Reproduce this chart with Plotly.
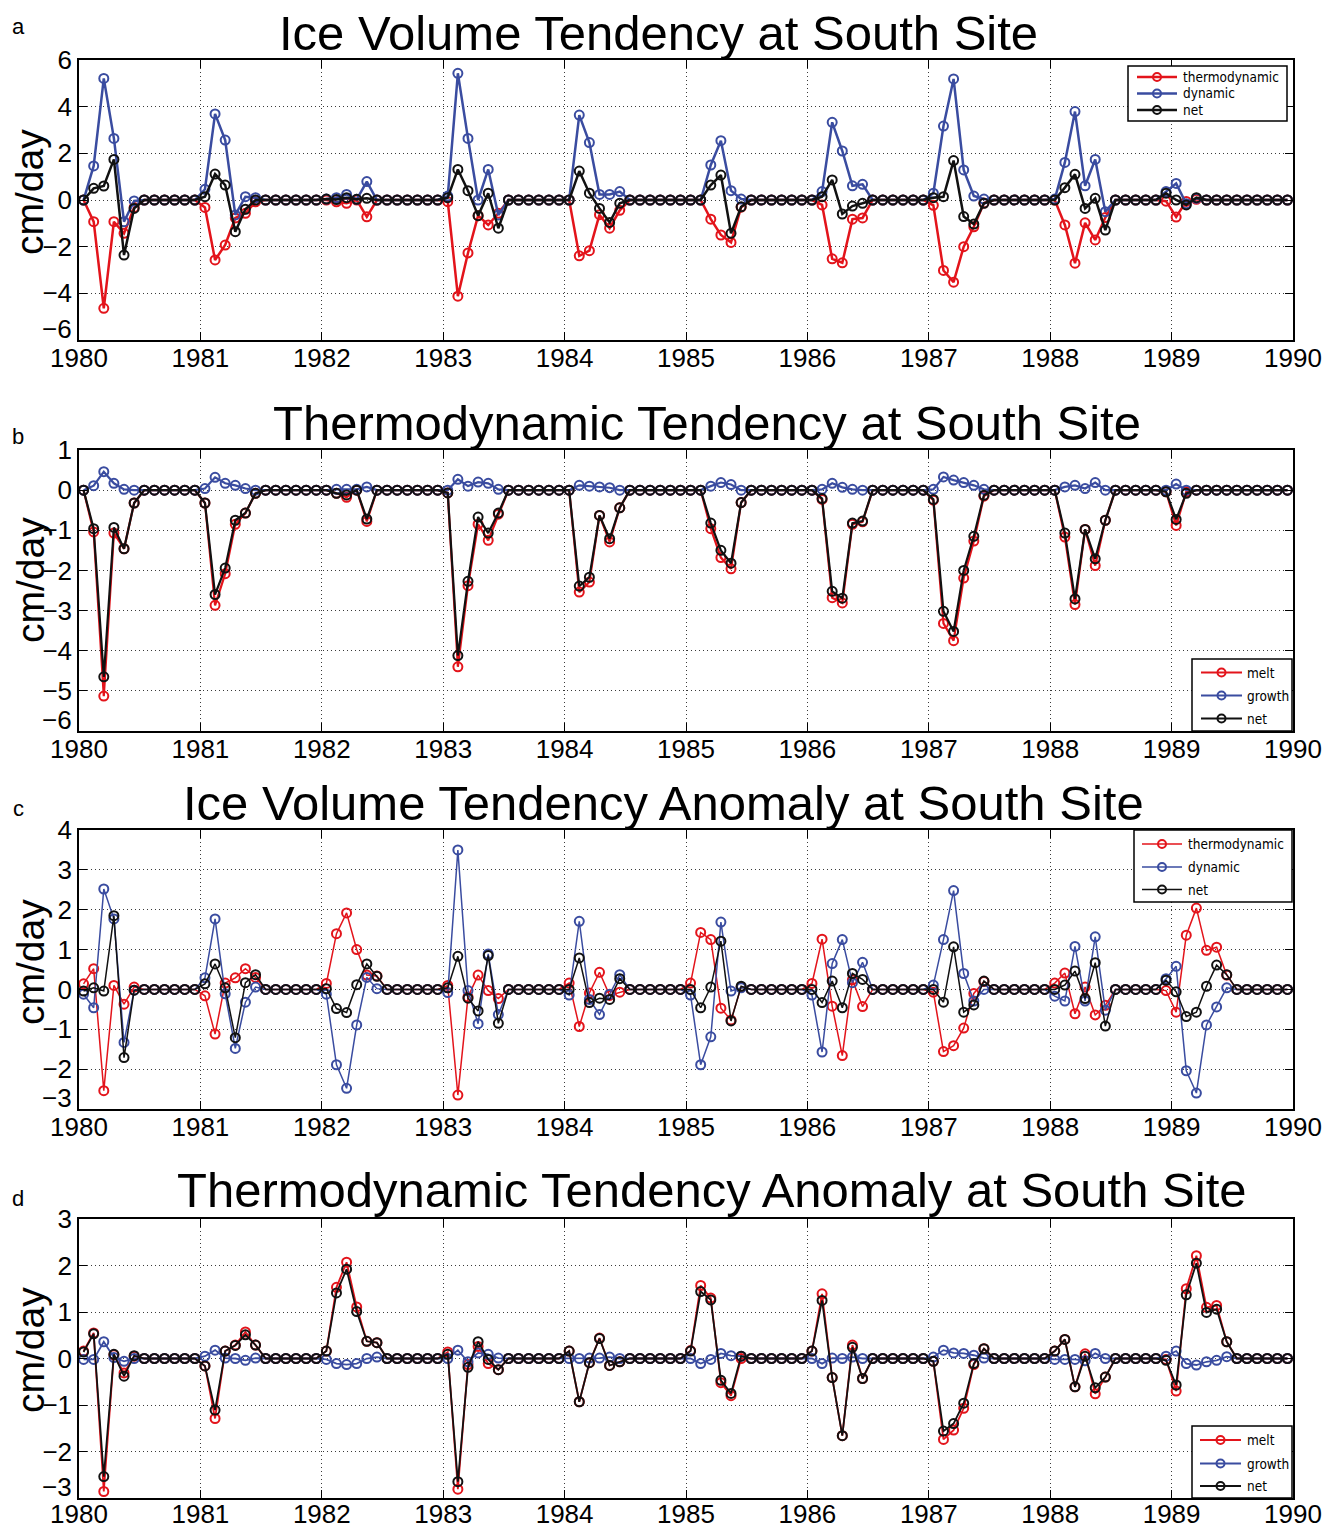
import plotly.graph_objects as go

W, H = 1337, 1529

RED = "#E3141B"
BLUE = "#3A4CA0"
BLACK = "#111111"
FONT = "Liberation Sans, Arial, Helvetica, sans-serif"
LEG_FONT = "Liberation Sans Narrow, DejaVu Sans Condensed, Liberation Sans, sans-serif"

# monthly samples, Jan 1980 .. Dec 1989 (plotted near the start of each month)
t = [1980 + (m + 0.45) / 12 for m in range(120)]
year_ticks = list(range(1980, 1991))

# ---- (a) ice volume tendency (cm/day) ----
thermo_a = [
    0, -0.93, -4.64, -0.93, -1.43, -0.32, 0, 0, 0, 0, 0, 0,
    -0.32, -2.57, -1.93, -0.77, -0.57, -0.08, 0, 0, 0, 0, 0, 0,
    0, -0.08, -0.14, 0, -0.72, 0, 0, 0, 0, 0, 0, 0,
    -0.07, -4.12, -2.27, -0.67, -1.07, -0.57, 0, 0, 0, 0, 0, 0,
    0, -2.39, -2.17, -0.63, -1.21, -0.44, 0, 0, 0, 0, 0, 0,
    0, 0, -0.82, -1.5, -1.82, -0.31, 0, 0, 0, 0, 0, 0,
    0, -0.21, -2.52, -2.69, -0.82, -0.77, 0, 0, 0, 0, 0, 0,
    -0.23, -3.02, -3.52, -2.0, -1.15, -0.13, 0, 0, 0, 0, 0, 0,
    0, -1.07, -2.71, -0.98, -1.71, -0.75, 0, 0, 0, 0, 0, -0.05,
    -0.73, -0.06, 0.03, 0, 0, 0, 0, 0, 0, 0, 0, 0,
]
dyn_a = [
    0, 1.46, 5.21, 2.64, -0.93, -0.04, 0, 0, 0, 0, 0, 0,
    0.46, 3.69, 2.57, -0.64, 0.14, 0.1, 0, 0, 0, 0, 0, 0,
    0.04, 0.1, 0.24, 0.03, 0.79, 0, 0, 0, 0, 0, 0, 0,
    0.17, 5.43, 2.64, 0, 1.31, -0.64, 0, 0, 0, 0, 0, 0,
    0, 3.64, 2.46, 0.24, 0.24, 0.36, 0, 0, 0, 0, 0, 0,
    0, 0, 1.5, 2.54, 0.4, 0.04, 0, 0, 0, 0, 0, 0,
    0, 0.36, 3.33, 2.1, 0.61, 0.67, 0, 0, 0, 0, 0, 0,
    0.29, 3.17, 5.19, 1.29, 0.17, 0.04, 0, 0, 0, 0, 0, 0,
    0.04, 1.61, 3.79, 0.61, 1.74, -0.5, 0, 0, 0, 0, 0, 0.36,
    0.71, -0.16, 0.07, 0, 0, 0, 0, 0, 0, 0, 0, 0,
]
net_a = [
    0, 0.5, 0.6, 1.74, -2.36, -0.36, 0, 0, 0, 0, 0, 0,
    0.14, 1.11, 0.64, -1.36, -0.4, 0, 0, 0, 0, 0, 0, 0,
    0.04, 0.02, 0.1, 0.03, 0.07, 0, 0, 0, 0, 0, 0, 0,
    0.1, 1.31, 0.4, -0.67, 0.29, -1.21, 0, 0, 0, 0, 0, 0,
    0, 1.24, 0.29, -0.36, -0.96, -0.14, 0, 0, 0, 0, 0, 0,
    0, 0, 0.64, 1.07, -1.43, -0.29, 0, 0, 0, 0, 0, 0,
    0, 0.14, 0.86, -0.6, -0.26, -0.14, 0, 0, 0, 0, 0, 0,
    0.1, 0.14, 1.69, -0.71, -1.03, -0.14, 0, 0, 0, 0, 0, 0,
    0, 0.53, 1.1, -0.36, 0.07, -1.29, 0, 0, 0, 0, 0, 0.29,
    0, -0.21, 0.1, 0, 0, 0, 0, 0, 0, 0, 0, 0,
]

# ---- (b) thermodynamic tendency (cm/day) ----
melt_b = [
    0, -1.04, -5.13, -1.07, -1.46, -0.32, 0, 0, 0, 0, 0, 0,
    -0.32, -2.87, -2.08, -0.85, -0.57, -0.08, 0, 0, 0, 0, 0, 0,
    0, -0.08, -0.18, 0, -0.78, 0, 0, 0, 0, 0, 0, 0,
    -0.07, -4.4, -2.38, -0.85, -1.25, -0.6, 0, 0, 0, 0, 0, 0,
    0, -2.54, -2.29, -0.63, -1.29, -0.44, 0, 0, 0, 0, 0, 0,
    0, 0, -0.96, -1.68, -1.96, -0.31, 0, 0, 0, 0, 0, 0,
    0, -0.23, -2.68, -2.81, -0.85, -0.79, 0, 0, 0, 0, 0, 0,
    -0.25, -3.32, -3.75, -2.19, -1.27, -0.15, 0, 0, 0, 0, 0, 0,
    0, -1.17, -2.85, -0.98, -1.88, -0.75, 0, 0, 0, 0, 0, -0.04,
    -0.88, -0.04, 0, 0, 0, 0, 0, 0, 0, 0, 0, 0,
]
growth_b = [
    0, 0.11, 0.46, 0.17, 0.02, 0, 0, 0, 0, 0, 0, 0,
    0.04, 0.32, 0.17, 0.12, 0.04, 0, 0, 0, 0, 0, 0, 0,
    0, 0.02, 0.02, 0.02, 0.08, 0, 0, 0, 0, 0, 0, 0,
    0, 0.27, 0.1, 0.2, 0.17, 0.02, 0, 0, 0, 0, 0, 0,
    0, 0.12, 0.1, 0.08, 0.06, 0, 0, 0, 0, 0, 0, 0,
    0, 0, 0.1, 0.19, 0.14, 0, 0, 0, 0, 0, 0, 0,
    0, 0.02, 0.17, 0.07, 0.02, 0, 0, 0, 0, 0, 0, 0,
    0.02, 0.33, 0.25, 0.19, 0.12, 0.02, 0, 0, 0, 0, 0, 0,
    0, 0.08, 0.12, 0.04, 0.19, 0, 0, 0, 0, 0, 0, 0,
    0.15, 0, 0, 0, 0, 0, 0, 0, 0, 0, 0, 0,
]
net_b = [
    0, -0.96, -4.65, -0.93, -1.46, -0.32, 0, 0, 0, 0, 0, 0,
    -0.32, -2.6, -1.94, -0.75, -0.57, -0.08, 0, 0, 0, 0, 0, 0,
    0, -0.08, -0.12, 0, -0.72, 0, 0, 0, 0, 0, 0, 0,
    -0.07, -4.12, -2.27, -0.67, -1.07, -0.57, 0, 0, 0, 0, 0, 0,
    0, -2.39, -2.17, -0.63, -1.21, -0.44, 0, 0, 0, 0, 0, 0,
    0, 0, -0.82, -1.5, -1.82, -0.31, 0, 0, 0, 0, 0, 0,
    0, -0.21, -2.52, -2.69, -0.82, -0.77, 0, 0, 0, 0, 0, 0,
    -0.23, -3.02, -3.52, -2.0, -1.15, -0.13, 0, 0, 0, 0, 0, 0,
    0, -1.07, -2.71, -0.98, -1.71, -0.75, 0, 0, 0, 0, 0, -0.04,
    -0.73, -0.08, 0, 0, 0, 0, 0, 0, 0, 0, 0, 0,
]

# ---- (c) ice volume tendency anomaly (cm/day) ----
thermo_c = [
    0.14, 0.52, -2.54, 0.1, -0.37, 0.06, 0, 0, 0, 0, 0, 0,
    -0.16, -1.12, 0.16, 0.29, 0.52, 0.3, 0, 0, 0, 0, 0, 0,
    0.15, 1.4, 1.92, 1.0, 0.36, 0.34, 0, 0, 0, 0, 0, 0,
    0.1, -2.65, -0.19, 0.36, -0.03, -0.23, 0, 0, 0, 0, 0, 0,
    0.16, -0.93, -0.09, 0.43, -0.15, -0.07, 0, 0, 0, 0, 0, 0,
    0.16, 1.43, 1.25, -0.47, -0.77, 0.06, 0, 0, 0, 0, 0, 0,
    0.15, 1.26, -0.42, -1.66, 0.24, -0.43, 0, 0, 0, 0, 0, 0,
    -0.07, -1.56, -1.41, -0.97, -0.1, 0.2, 0, 0, 0, 0, 0, 0,
    0.16, 0.41, -0.61, 0.06, -0.64, -0.4, 0, 0, 0, 0, 0, -0.03,
    -0.57, 1.36, 2.04, 0.98, 1.06, 0.36, 0, 0, 0, 0, 0, 0,
]
dyn_c = [
    -0.12, -0.46, 2.52, 1.77, -1.33, -0.02, 0, 0, 0, 0, 0, 0,
    0.29, 1.77, -0.11, -1.48, -0.32, 0.06, 0, 0, 0, 0, 0, 0,
    -0.12, -1.89, -2.48, -0.89, 0.3, 0.02, 0, 0, 0, 0, 0, 0,
    -0.08, 3.5, -0.03, -0.86, 0.89, -0.63, 0, 0, 0, 0, 0, 0,
    -0.14, 1.71, -0.25, -0.63, -0.12, 0.37, 0, 0, 0, 0, 0, 0,
    -0.14, -1.89, -1.19, 1.69, -0.04, 0.04, 0, 0, 0, 0, 0, 0,
    -0.14, -1.57, 0.65, 1.25, 0.17, 0.68, 0, 0, 0, 0, 0, 0,
    0.11, 1.25, 2.48, 0.4, -0.29, 0, 0, 0, 0, 0, 0, 0,
    -0.17, -0.29, 1.08, -0.29, 1.32, -0.52, 0, 0, 0, 0, 0, 0.27,
    0.58, -2.04, -2.6, -0.89, -0.44, 0.04, 0, 0, 0, 0, 0, 0,
]
net_c = [
    -0.04, 0.04, -0.04, 1.85, -1.71, -0.02, 0, 0, 0, 0, 0, 0,
    0.14, 0.64, 0.04, -1.21, 0.17, 0.37, 0, 0, 0, 0, 0, 0,
    0.02, -0.48, -0.58, 0.12, 0.64, 0.33, 0, 0, 0, 0, 0, 0,
    0.04, 0.83, -0.22, -0.54, 0.85, -0.85, 0, 0, 0, 0, 0, 0,
    0, 0.79, -0.33, -0.22, -0.25, 0.27, 0, 0, 0, 0, 0, 0,
    0, -0.46, 0.06, 1.21, -0.79, 0.08, 0, 0, 0, 0, 0, 0,
    0, -0.33, 0.21, -0.46, 0.4, 0.25, 0, 0, 0, 0, 0, 0,
    0, -0.32, 1.07, -0.57, -0.39, 0.21, 0, 0, 0, 0, 0, 0,
    0, 0.11, 0.46, -0.23, 0.67, -0.92, 0, 0, 0, 0, 0, 0.23,
    -0.06, -0.68, -0.57, 0.08, 0.61, 0.37, 0, 0, 0, 0, 0, 0,
]

# ---- (d) thermodynamic tendency anomaly (cm/day) ----
melt_d = [
    0.16, 0.55, -2.86, 0.08, -0.31, 0.05, 0, 0, 0, 0, 0, 0,
    -0.16, -1.29, 0.16, 0.29, 0.57, 0.29, 0, 0, 0, 0, 0, 0,
    0.16, 1.53, 2.07, 1.11, 0.37, 0.34, 0, 0, 0, 0, 0, 0,
    0.14, -2.81, -0.13, 0.26, -0.11, -0.24, 0, 0, 0, 0, 0, 0,
    0.16, -0.93, -0.09, 0.44, -0.15, -0.07, 0, 0, 0, 0, 0, 0,
    0.17, 1.57, 1.3, -0.52, -0.8, 0, 0, 0, 0, 0, 0, 0,
    0.16, 1.39, -0.41, -1.66, 0.29, -0.43, 0, 0, 0, 0, 0, 0,
    -0.06, -1.74, -1.54, -1.07, -0.13, 0.21, 0, 0, 0, 0, 0, 0,
    0.16, 0.41, -0.61, 0.1, -0.76, -0.4, 0, 0, 0, 0, 0, -0.02,
    -0.7, 1.5, 2.21, 1.1, 1.14, 0.36, 0, 0, 0, 0, 0, 0,
]
growth_d = [
    -0.02, -0.02, 0.36, 0.02, -0.06, 0, 0, 0, 0, 0, 0, 0,
    0.05, 0.18, 0.01, 0, -0.04, 0.01, 0, 0, 0, 0, 0, 0,
    -0.02, -0.11, -0.13, -0.11, 0, 0.03, 0, 0, 0, 0, 0, 0,
    0, 0.18, -0.07, 0.12, 0.09, 0.01, 0, 0, 0, 0, 0, 0,
    0, 0, 0.01, 0.01, 0.03, 0, 0, 0, 0, 0, 0, 0,
    0, -0.11, -0.02, 0.11, 0.06, 0.05, 0, 0, 0, 0, 0, 0,
    0, -0.11, 0.01, 0, 0.03, 0, 0, 0, 0, 0, 0, 0,
    0.03, 0.18, 0.12, 0.11, 0.07, 0.01, 0, 0, 0, 0, 0, 0,
    -0.02, -0.02, -0.02, -0.05, 0.11, 0, 0, 0, 0, 0, 0, 0.05,
    0.16, -0.11, -0.14, -0.07, -0.04, 0.04, 0, 0, 0, 0, 0, 0,
]
net_d = [
    0.14, 0.53, -2.54, 0.09, -0.38, 0.06, 0, 0, 0, 0, 0, 0,
    -0.16, -1.11, 0.16, 0.28, 0.51, 0.29, 0, 0, 0, 0, 0, 0,
    0.16, 1.41, 1.92, 1.01, 0.37, 0.34, 0, 0, 0, 0, 0, 0,
    0.09, -2.65, -0.19, 0.36, -0.02, -0.24, 0, 0, 0, 0, 0, 0,
    0.16, -0.93, -0.09, 0.43, -0.15, -0.07, 0, 0, 0, 0, 0, 0,
    0.16, 1.44, 1.26, -0.47, -0.75, 0.05, 0, 0, 0, 0, 0, 0,
    0.16, 1.25, -0.41, -1.66, 0.24, -0.43, 0, 0, 0, 0, 0, 0,
    -0.06, -1.56, -1.4, -0.96, -0.11, 0.21, 0, 0, 0, 0, 0, 0,
    0.16, 0.41, -0.61, 0.05, -0.63, -0.4, 0, 0, 0, 0, 0, -0.04,
    -0.57, 1.37, 2.05, 0.99, 1.06, 0.36, 0, 0, 0, 0, 0, 0,
]

panels = [
    dict(letter="a", title="Ice Volume Tendency at South Site",
         top=60, bottom=340, yrange=(-6, 6), dtick=2, lw=2.5, xstand=-6,
         series=[("thermodynamic", thermo_a, RED), ("dynamic", dyn_a, BLUE), ("net", net_a, BLACK)],
         title_xy=(658, 33), letter_y=27, ylab_y=192,
         leg=dict(box=(1128, 66, 1287, 121), line_x=(1137, 1177), text_x=1181, rows=(77, 93.5, 110))),
    dict(letter="b", title="Thermodynamic Tendency at South Site",
         top=450, bottom=731, yrange=(-6, 1), dtick=1, lw=2.2, xstand=-6,
         series=[("melt", melt_b, RED), ("growth", growth_b, BLUE), ("net", net_b, BLACK)],
         title_xy=(707, 423), letter_y=437, ylab_y=580,
         leg=dict(box=(1192, 659, 1292, 731), line_x=(1201, 1242), text_x=1245, rows=(672.5, 695.5, 718.5))),
    dict(letter="c", title="Ice Volume Tendency Anomaly at South Site",
         top=830, bottom=1109, yrange=(-3, 4), dtick=1, lw=1.5, xstand=-6,
         series=[("thermodynamic", thermo_c, RED), ("dynamic", dyn_c, BLUE), ("net", net_c, BLACK)],
         title_xy=(663, 803), letter_y=808, ylab_y=962,
         leg=dict(box=(1134, 830, 1292, 902), line_x=(1142, 1182), text_x=1186, rows=(844, 867, 889.5))),
    dict(letter="d", title="Thermodynamic Tendency Anomaly at South Site",
         top=1219, bottom=1498, yrange=(-3, 3), dtick=1, lw=1.8, xstand=-8,
         series=[("melt", melt_d, RED), ("growth", growth_d, BLUE), ("net", net_d, BLACK)],
         title_xy=(712, 1190), letter_y=1198, ylab_y=1350,
         leg=dict(box=(1192, 1426, 1292, 1498), line_x=(1200, 1241), text_x=1245, rows=(1440, 1463.5, 1486))),
]

X0, X1 = 79, 1293


def fx(p):
    return p / W


def fy(p):
    return 1 - p / H


fig = go.Figure()
layout = dict(
    width=W, height=H, margin=dict(l=0, r=0, t=0, b=0, pad=0, autoexpand=False),
    paper_bgcolor="white", plot_bgcolor="white", showlegend=False,
    font=dict(family=FONT, color="black"),
)
annotations = []
shapes = []

for i, p in enumerate(panels, start=1):
    xa = "x" if i == 1 else f"x{i}"
    ya = "y" if i == 1 else f"y{i}"
    for name, vals, col in p["series"]:
        fig.add_trace(go.Scatter(
            x=t, y=vals, name=name, mode="lines+markers",
            line=dict(color=col, width=p["lw"]),
            marker=dict(symbol="circle-open", size=9, color=col, line=dict(width=2)),
            xaxis=xa, yaxis=ya, cliponaxis=False,
        ))
    lo, hi = p["yrange"]
    yt = list(range(lo, hi + 1, p["dtick"]))
    common = dict(
        showline=True, linecolor="black", linewidth=1.5, mirror="ticks",
        ticks="inside", ticklen=8, tickwidth=1, tickcolor="black",
        showgrid=True, gridcolor="#3a3a3a", gridwidth=1, griddash="1px,3px",
        zeroline=False, automargin=False,
        tickfont=dict(family=FONT, size=26, color="black"),
    )
    layout["xaxis" if i == 1 else f"xaxis{i}"] = dict(
        common, domain=[fx(X0), fx(X1)], anchor=ya, range=[1980, 1990],
        tickvals=year_ticks, ticktext=[str(y) for y in year_ticks],
        ticklabelstandoff=p["xstand"],
    )
    layout["yaxis" if i == 1 else f"yaxis{i}"] = dict(
        common, domain=[fy(p["bottom"]), fy(p["top"])], anchor=xa, range=[lo, hi],
        tickvals=yt[1:], ticktext=[str(v).replace("-", "\u2212") for v in yt[1:]],
    )
    # lowest y tick label sits a little above its gridline
    annotations.append(dict(
        text=str(lo).replace("-", "\u2212"), xref="paper", yref=ya, x=fx(X0 - 5), y=lo,
        xanchor="right", yanchor="middle", yshift=11, showarrow=False,
        font=dict(family=FONT, size=26, color="black"),
    ))
    # title, panel letter, y-axis label
    tx, ty = p["title_xy"]
    annotations.append(dict(
        text=p["title"], xref="paper", yref="paper", x=fx(tx), y=fy(ty),
        xanchor="center", yanchor="middle", showarrow=False,
        font=dict(family=FONT, size=49, color="black"),
    ))
    annotations.append(dict(
        text=p["letter"], xref="paper", yref="paper", x=fx(18), y=fy(p["letter_y"]),
        xanchor="center", yanchor="middle", showarrow=False,
        font=dict(family=FONT, size=22, color="black"),
    ))
    annotations.append(dict(
        text="cm/day", xref="paper", yref="paper", x=fx(30), y=fy(p["ylab_y"]),
        xanchor="center", yanchor="middle", textangle=-90, showarrow=False,
        font=dict(family=FONT, size=39, color="black"),
    ))
    # legend box
    lg = p["leg"]
    bx0, by0, bx1, by1 = lg["box"]
    shapes.append(dict(type="rect", xref="paper", yref="paper",
                       x0=fx(bx0), x1=fx(bx1), y0=fy(by1), y1=fy(by0),
                       fillcolor="white", line=dict(color="black", width=1.5), layer="above"))
    lx0, lx1 = lg["line_x"]
    for (name, _, col), ry in zip(p["series"], lg["rows"]):
        shapes.append(dict(type="line", xref="paper", yref="paper",
                           x0=fx(lx0), x1=fx(lx1), y0=fy(ry), y1=fy(ry),
                           line=dict(color=col, width=p["lw"]), layer="above"))
        shapes.append(dict(type="circle", xref="paper", yref="paper",
                           xsizemode="pixel", ysizemode="pixel",
                           xanchor=fx((lx0 + lx1) / 2), yanchor=fy(ry),
                           x0=-4, x1=4, y0=-4, y1=4,
                           line=dict(color=col, width=2), fillcolor="rgba(0,0,0,0)", layer="above"))
        annotations.append(dict(
            text=name, xref="paper", yref="paper", x=fx(lg["text_x"]), y=fy(ry),
            xanchor="left", yanchor="middle", showarrow=False,
            font=dict(family=LEG_FONT, size=13.5, color="black"),
        ))

layout["annotations"] = annotations
layout["shapes"] = shapes
fig.update_layout(**layout)
fig.write_html("out.html")
